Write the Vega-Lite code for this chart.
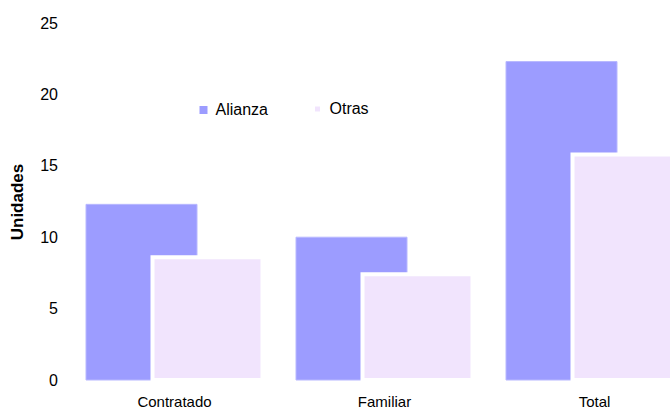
{
  "$schema": "https://vega.github.io/schema/vega-lite/v6.json",
  "width": 630,
  "height": 357,
  "autosize": {"type": "none"},
  "padding": {"left": 69.5, "top": 23, "right": 0, "bottom": 28},
  "background": "white",
  "config": {
    "font": "Liberation Sans",
    "view": {"stroke": null},
    "axis": {"grid": false, "domain": false, "ticks": false, "labelFont": "Liberation Sans", "labelColor": "#000000", "titleColor": "#000000"}
  },
  "data": {
    "values": [
      {"cat": "Contratado", "serie": "Alianza", "valor": 12.3},
      {"cat": "Familiar", "serie": "Alianza", "valor": 10.0},
      {"cat": "Total", "serie": "Alianza", "valor": 22.3},
      {"cat": "Contratado", "serie": "Otras", "valor": 8.6},
      {"cat": "Familiar", "serie": "Otras", "valor": 7.4},
      {"cat": "Total", "serie": "Otras", "valor": 15.8}
    ]
  },
  "encoding": {
    "x": {
      "field": "cat", "type": "nominal", "sort": ["Contratado", "Familiar", "Total"],
      "scale": {"paddingInner": 0, "paddingOuter": 0},
      "axis": {"title": null, "labelAngle": 0, "labelPadding": 14, "labelFontSize": 15}
    },
    "y": {
      "field": "valor", "type": "quantitative",
      "scale": {"domain": [0, 25], "nice": false},
      "axis": {"title": "Unidades", "values": [0, 5, 10, 15, 20, 25], "labelFontSize": 16, "labelPadding": 12, "titleFontSize": 17, "titleFontWeight": "bold", "titlePadding": 13, "titleFont": "Liberation Sans"}
    },
    "color": {
      "field": "serie", "type": "nominal",
      "scale": {"domain": ["Alianza", "Otras"], "range": ["#9c9cff", "#f1e4fd"]},
      "legend": {
        "title": null, "orient": "none", "direction": "horizontal",
        "legendX": 126, "legendY": 78,
        "symbolType": "square", "symbolSize": 64,
        "symbolStrokeColor": "white",
        "symbolStrokeWidth": {"expr": "datum.label === 'Otras' ? 3 : 0"},
        "labelFontSize": 16, "labelFont": "Liberation Sans", "labelColor": "#000000",
        "labelOffset": 4, "columnPadding": 39, "padding": 0
      }
    }
  },
  "layer": [
    {
      "transform": [{"filter": "datum.serie === 'Alianza'"}],
      "mark": {"type": "bar", "width": 111, "xOffset": -33, "stroke": "#b8b8ff", "strokeWidth": 1}
    },
    {
      "transform": [{"filter": "datum.serie === 'Otras'"}],
      "mark": {"type": "bar", "width": 110, "xOffset": 33, "stroke": "white", "strokeWidth": 4}
    }
  ]
}
